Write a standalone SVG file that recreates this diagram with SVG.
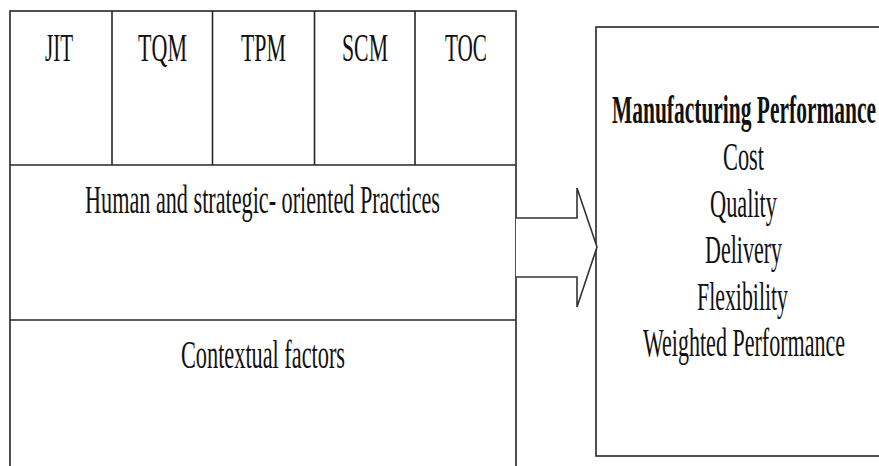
<svg xmlns="http://www.w3.org/2000/svg" width="879" height="466" viewBox="0 0 879 466">
  <style>
    .box { fill: #ffffff; stroke: #262626; stroke-width: 1.6; }
    .rule { stroke: #262626; stroke-width: 1.6; fill: none; }
    .lbl { font-family: "Liberation Serif", "Times New Roman", serif; font-size: 40px; fill: #111111; text-anchor: start; }
    .bold { font-weight: bold; }
    .arrow { fill: #ffffff; stroke: #333333; stroke-width: 1.6; stroke-linejoin: miter; }
  </style>
  <rect width="879" height="466" fill="#ffffff"/>

  <!-- practices block: five practice columns, human/strategic row, contextual row -->
  <g id="practices">
    <rect class="box" x="10" y="11" width="506" height="470"/>
    <line class="rule" x1="10" y1="165" x2="516" y2="165"/>
    <line class="rule" x1="10" y1="320" x2="516" y2="320"/>
  </g>
  <g id="jit">
    <line class="rule" x1="112" y1="11" x2="112" y2="165"/>
    <text class="lbl" x="45" y="61" textLength="28" lengthAdjust="spacingAndGlyphs">JIT</text>
  </g>
  <g id="tqm">
    <line class="rule" x1="212.5" y1="11" x2="212.5" y2="165"/>
    <text class="lbl" x="138" y="61" textLength="49" lengthAdjust="spacingAndGlyphs">TQM</text>
  </g>
  <g id="tpm">
    <line class="rule" x1="314.5" y1="11" x2="314.5" y2="165"/>
    <text class="lbl" x="241" y="61" textLength="45" lengthAdjust="spacingAndGlyphs">TPM</text>
  </g>
  <g id="scm">
    <line class="rule" x1="415" y1="11" x2="415" y2="165"/>
    <text class="lbl" x="342" y="61" textLength="46" lengthAdjust="spacingAndGlyphs">SCM</text>
  </g>
  <g id="toc">
    <text class="lbl" x="445" y="61" textLength="42" lengthAdjust="spacingAndGlyphs">TOC</text>
  </g>
  <g id="human-strategic">
    <text class="lbl" x="85" y="213" textLength="355" lengthAdjust="spacingAndGlyphs">Human and strategic- oriented Practices</text>
  </g>
  <g id="contextual">
    <text class="lbl" x="181" y="368" textLength="164" lengthAdjust="spacingAndGlyphs">Contextual factors</text>
  </g>

  <!-- outcome block -->
  <g id="performance">
    <rect class="box" x="596" y="27" width="300" height="429"/>
    <text class="lbl bold" x="612" y="123" textLength="264" lengthAdjust="spacingAndGlyphs">Manufacturing Performance</text>
    <text class="lbl" x="723" y="170" textLength="41" lengthAdjust="spacingAndGlyphs">Cost</text>
    <text class="lbl" x="710" y="217" textLength="67" lengthAdjust="spacingAndGlyphs">Quality</text>
    <text class="lbl" x="705" y="263" textLength="77" lengthAdjust="spacingAndGlyphs">Delivery</text>
    <text class="lbl" x="697" y="310" textLength="91" lengthAdjust="spacingAndGlyphs">Flexibility</text>
    <text class="lbl" x="643" y="356" textLength="202" lengthAdjust="spacingAndGlyphs">Weighted Performance</text>
  </g>

  <!-- block arrow from practices to performance -->
  <g id="connectors">
    <path class="arrow" d="M516,218 H577 V188 L597,247 L577,307 V277 H516"/>
  </g>
</svg>
